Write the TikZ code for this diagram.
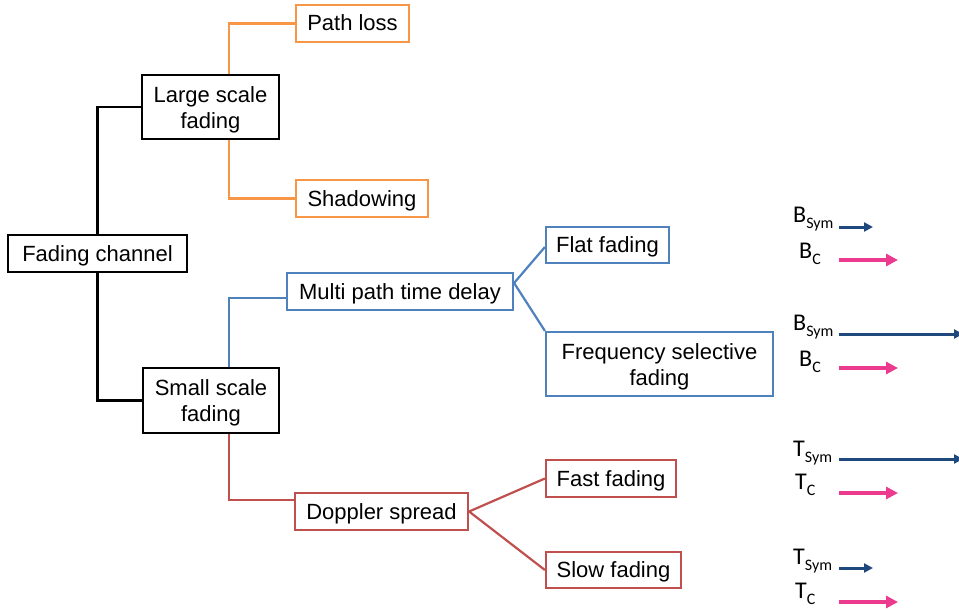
\documentclass[tikz,border=0pt]{standalone}
\usepackage{fontspec}
\setmainfont{Liberation Sans}
\newfontfamily\calfont{Carlito}
\usetikzlibrary{arrows.meta,calc}
\definecolor{orng}{HTML}{F79646}
\definecolor{blu}{HTML}{4F81BD}
\definecolor{rd}{HTML}{C0504D}
\definecolor{navy}{HTML}{1F497D}
\definecolor{pnk}{HTML}{EC3A8E}
\tikzset{
  box/.style={draw, rectangle, inner sep=0pt, align=center, fill=white,
    font=\fontsize{22}{26}\selectfont, text=black},
  oneline/.style={text height=16pt, text depth=1pt},
  blackbox/.style={box, draw=black, line width=2.4pt},
  obox/.style={box, draw=orng, line width=2.2pt},
  bbox/.style={box, draw=blu, line width=2.2pt},
  rbox/.style={box, draw=rd, line width=2.2pt},
  blink/.style={draw=black, line width=2.2pt},
  olink/.style={draw=orng, line width=2.2pt},
  bllink/.style={draw=blu, line width=2.2pt},
  rlink/.style={draw=rd, line width=2.2pt},
  lab/.style={inner sep=0pt, anchor=base west, font=\calfont\fontsize{24}{24}\selectfont},
  symarrow/.style={draw=navy, line width=3pt, -{Triangle[length=9pt,width=9pt]}},
  carrow/.style={draw=pnk, line width=4pt, -{Triangle[length=12pt,width=12pt]}}
}
\newcommand{\subl}[1]{\raisebox{-6pt}{\fontsize{16}{16}\selectfont #1}}
\newcommand{\twolines}[2]{\raisebox{-3pt}[\height][\depth]{\begin{tabular}{@{}c@{}}#1\\#2\end{tabular}}}
\begin{document}
\begin{tikzpicture}[x=1pt,y=-1pt]
\useasboundingbox (0,0) rectangle (959,610);
% nodes
\node[blackbox, oneline, minimum width=179pt, minimum height=37pt] (fc) at (97.5,253.5) {Fading channel};
\node[blackbox, minimum width=137pt, minimum height=64pt] (lsf) at (210.5,107) {\twolines{Large scale}{fading}};
\node[obox, oneline, minimum width=113pt, minimum height=37pt] (pl) at (352.5,23.5) {Path loss};
\node[obox, oneline, minimum width=132pt, minimum height=37pt] (sh) at (362,198.5) {Shadowing};
\node[blackbox, minimum width=136pt, minimum height=65pt] (ssf) at (211,400.5) {\twolines{Small scale}{fading}};
\node[bbox, oneline, minimum width=226pt, minimum height=37pt] (mp) at (400,291.5) {Multi path time delay};
\node[bbox, oneline, minimum width=123pt, minimum height=36pt] (ff) at (607.5,245) {Flat fading};
\node[bbox, minimum width=227pt, minimum height=64pt] (fs) at (659.5,364) {\twolines{Frequency selective}{fading}};
\node[rbox, oneline, minimum width=173pt, minimum height=37pt] (dop) at (381.5,511.5) {Doppler spread};
\node[rbox, oneline, minimum width=130pt, minimum height=37pt] (fast) at (611,478.5) {Fast fading};
\node[rbox, oneline, minimum width=135pt, minimum height=36pt] (slow) at (613.5,570) {Slow fading};
% connectors
\draw[blink] (fc.north) |- (lsf.west);
\draw[blink] (fc.south) |- (ssf.west);
\draw[olink] ([xshift=18.5pt]lsf.north) |- (pl.west);
\draw[olink] ([xshift=18.5pt]lsf.south) |- (sh.west);
\draw[bllink] ([xshift=18pt]ssf.north) |- ([yshift=-6.5pt]mp.west);
\draw[rlink] ([xshift=18pt]ssf.south) |- ([yshift=11.5pt]dop.west);
\draw[bllink] ([yshift=8.5pt]mp.east) -- ([yshift=-2pt]ff.west);
\draw[bllink] ([yshift=8.5pt]mp.east) -- (fs.north west);
\draw[rlink] (dop.east) -- (fast.west);
\draw[rlink] (dop.east) -- (slow.west);
% right-hand labels and arrows
\node[lab] (bs1) at (793,222) {B\subl{Sym}};
\node[lab] (bc1) at (799,258) {B\subl{C}};
\coordinate (a1s) at (839,227); \coordinate (a1e) at (873,227);
\coordinate (c1s) at (839,260); \coordinate (c1e) at (898,260);
\draw[symarrow] (a1s) -- (a1e);
\draw[carrow] (c1s) -- (c1e);
\node[lab] (bs2) at (793,330) {B\subl{Sym}};
\node[lab] (bc2) at (799,366) {B\subl{C}};
\coordinate (a2s) at (839,334); \coordinate (a2e) at (963,334);
\coordinate (c2s) at (839,368); \coordinate (c2e) at (898,368);
\draw[symarrow] (a2s) -- (a2e);
\draw[carrow] (c2s) -- (c2e);
\node[lab] (ts3) at (793,456) {T\subl{Sym}};
\node[lab] (tc3) at (795,489) {T\subl{C}};
\coordinate (a3s) at (839,459); \coordinate (a3e) at (963,459);
\coordinate (c3s) at (839,493); \coordinate (c3e) at (898,493);
\draw[symarrow] (a3s) -- (a3e);
\draw[carrow] (c3s) -- (c3e);
\node[lab] (ts4) at (793,564) {T\subl{Sym}};
\node[lab] (tc4) at (795,598) {T\subl{C}};
\coordinate (a4s) at (839,568); \coordinate (a4e) at (873,568);
\coordinate (c4s) at (839,602); \coordinate (c4e) at (898,602);
\draw[symarrow] (a4s) -- (a4e);
\draw[carrow] (c4s) -- (c4e);
\end{tikzpicture}
\end{document}
